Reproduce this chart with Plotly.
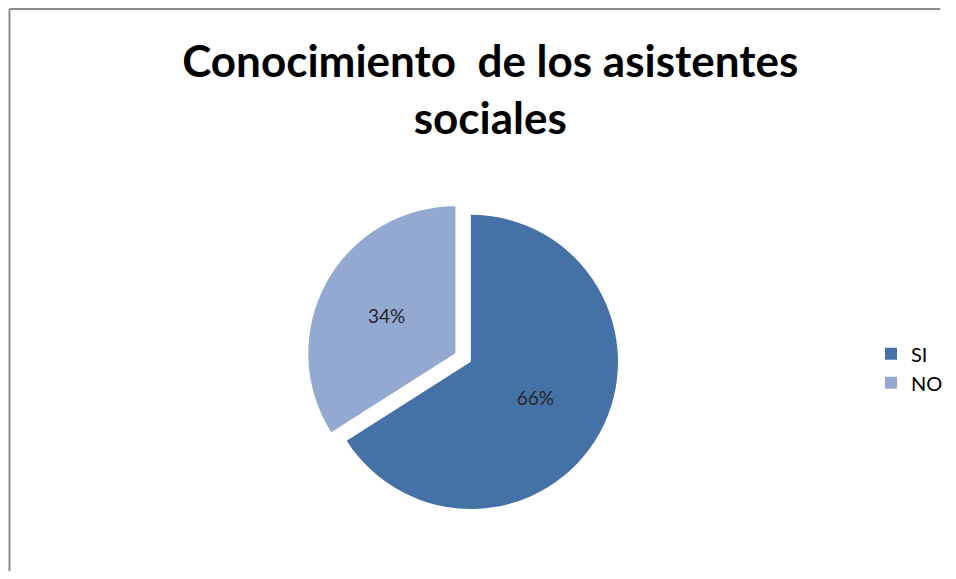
import plotly.graph_objects as go

categories = ["SI", "NO"]
values = [66, 34]
colors = ["#4471A6", "#93A9D1"]
title_text = "Conocimiento  de los asistentes<br>sociales"

W, H = 940, 563

fig = go.Figure()
fig.add_trace(go.Pie(
    labels=categories,
    values=values,
    sort=False,
    direction="clockwise",
    rotation=0,
    pull=[0, 0.12],
    marker=dict(colors=colors, line=dict(color="#FFFFFF", width=0)),
    textinfo="percent",
    texttemplate="%{percent:.0%}",
    textposition="inside",
    insidetextorientation="horizontal",
    textfont=dict(family="Lato, Open Sans, sans-serif", size=19, color="#262626"),
    hoverinfo="label+percent",
    domain=dict(x=[0.323, 0.68], y=[0.073, 0.67]),
))

fig.update_layout(
    width=W, height=H,
    margin=dict(l=0, r=0, t=0, b=0),
    paper_bgcolor="#FFFFFF",
    title=dict(
        text=title_text,
        x=0.513, xanchor="center",
        yref="container", y=0.877, yanchor="top",
        font=dict(family="Lato, Open Sans, sans-serif", size=44, color="#000000", weight="bold"),
    ),
    legend=dict(
        x=0.935, xanchor="left", y=0.36, yanchor="middle",
        font=dict(family="Lato, Open Sans, sans-serif", size=20, color="#000000"),
        itemwidth=30,
        bgcolor="rgba(0,0,0,0)",
    ),
    shapes=[
        dict(type="line", xref="paper", yref="paper", x0=1.5 / W, x1=1.5 / W, y0=1 - 1 / H, y1=-0.01,
             line=dict(color="#8C8C8C", width=2)),
        dict(type="line", xref="paper", yref="paper", x0=1.5 / W, x1=1.01, y0=1 - 1 / H, y1=1 - 1 / H,
             line=dict(color="#8C8C8C", width=2)),
    ],
)

fig.write_html("out.html")
